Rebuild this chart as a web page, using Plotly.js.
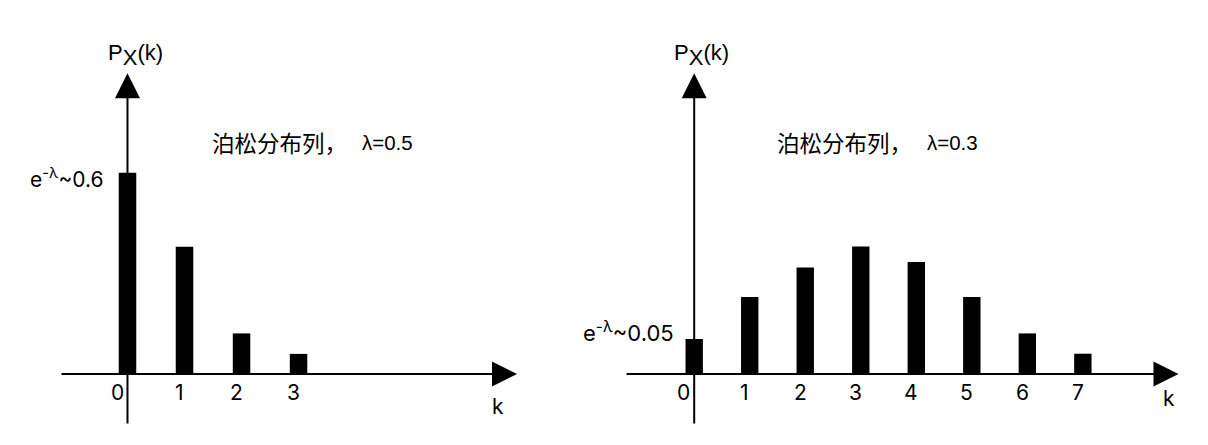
<!DOCTYPE html>
<html><head><meta charset="utf-8">
<script src="https://cdn.plot.ly/plotly-3.0.1.min.js"></script>
<style>html,body{margin:0;padding:0;background:#fff}</style>
</head><body><div id="chart" style="width:1208px;height:445px"></div>
<script>
// ---- data ----
const kLeft = [0, 1, 2, 3];
const pLeft = [0.6, 0.379, 0.121, 0.060];
const kRight = [0, 1, 2, 3, 4, 5, 6, 7];
const pRight = [0.05, 0.110, 0.152, 0.182, 0.160, 0.110, 0.058, 0.029];
const tickLeft = ['0', '1', '2', '3'];
const tickRight = ['0', '1', '2', '3', '4', '5', '6', '7'];
const titleCJK = '泊松分布列，';
const lambdaLeft = 'λ=0.5';
const lambdaRight = 'λ=0.3';
const e0Left = '0.6';
const e0Right = '0.05';
const xLabel = 'k';

// ---- helpers ----
const W = 1208, H = 445;
const px = x => x / W;
const py = y => 1 - y / H;
const FONT = 'Liberation Sans, Arial, sans-serif';
const WIDE = 'Inter, Liberation Sans, sans-serif';
const CJKFONT = 'Noto Sans CJK SC, sans-serif';
const f = (size, fam) => ({family: fam || FONT, size: size, color: '#000'});

const bars = [
  {type: 'bar', x: kLeft, y: pLeft, xaxis: 'x', yaxis: 'y', width: 0.307,
   marker: {color: '#000', line: {width: 0}}, hoverinfo: 'skip'},
  {type: 'bar', x: kRight, y: pRight, xaxis: 'x2', yaxis: 'y2', width: 0.313,
   marker: {color: '#000', line: {width: 0}}, hoverinfo: 'skip'}
];

const ann = [];
function arrow(o) {
  ann.push(Object.assign({text: '', showarrow: true, arrowhead: 2, arrowsize: 2.5,
    arrowwidth: 2, arrowcolor: '#000', standoff: 0, startstandoff: 0,
    axref: 'pixel', ayref: 'pixel'}, o));
}
function txt(o) {
  ann.push(Object.assign({showarrow: false, xanchor: 'center', yanchor: 'middle',
    font: f(21, WIDE)}, o));
}

// left panel axes
arrow({xref: 'x', x: 0, yref: 'paper', y: py(73.3), ax: 0, ay: 425 - 73.3});
arrow({xref: 'paper', x: px(517), yref: 'y', y: 0, ax: -(517 - 60), ay: 0});
// right panel axes
arrow({xref: 'x2', x: 0, yref: 'paper', y: py(73.3), ax: 0, ay: 425 - 73.3});
arrow({xref: 'paper', x: px(1178.5), yref: 'y2', y: 0, ax: -(1178.5 - 625), ay: 0});

// tick labels
kLeft.forEach((k, i) => txt({xref: 'x', yref: 'y', x: k, y: 0, yshift: -18,
  xshift: k === 0 ? -10 : -5, text: tickLeft[i]}));
kRight.forEach((k, i) => txt({xref: 'x2', yref: 'y2', x: k, y: 0, yshift: -18,
  xshift: k === 0 ? -11 : -5, text: tickRight[i]}));

// axis labels
txt({xref: 'paper', yref: 'paper', x: px(498), y: py(406), text: xLabel});
txt({xref: 'paper', yref: 'paper', x: px(1169), y: py(398), text: xLabel});
const yLabel = 'P<sub><span style="font-size:22px">X</span></sub>(k)';
txt({xref: 'paper', yref: 'paper', x: px(106), y: py(55), xanchor: 'left', text: yLabel, font: f(22)});
txt({xref: 'paper', yref: 'paper', x: px(672), y: py(55), xanchor: 'left', text: yLabel, font: f(22)});

// titles
txt({xref: 'paper', yref: 'paper', x: px(210), y: py(142), xanchor: 'left', text: titleCJK, font: f(22.5, CJKFONT)});
txt({xref: 'paper', yref: 'paper', x: px(360), y: py(142), xanchor: 'left', text: lambdaLeft, font: f(20.5)});
txt({xref: 'paper', yref: 'paper', x: px(775), y: py(142), xanchor: 'left', text: titleCJK, font: f(22.5, CJKFONT)});
txt({xref: 'paper', yref: 'paper', x: px(925), y: py(142), xanchor: 'left', text: lambdaRight, font: f(20.5)});

// e^-lambda labels
txt({xref: 'paper', yref: 'paper', x: px(27.5), y: py(178), xanchor: 'left', text: 'e<sup>-λ</sup>~' + e0Left, font: f(21, WIDE)});
txt({xref: 'paper', yref: 'paper', x: px(580.5), y: py(331), xanchor: 'left', text: 'e<sup>-λ</sup>~' + e0Right, font: f(22, WIDE)});

const hidden = {visible: false, fixedrange: true};
const layout = {
  width: W, height: H,
  margin: {l: 0, r: 0, t: 0, b: 0},
  paper_bgcolor: '#fff', plot_bgcolor: 'rgba(0,0,0,0)',
  showlegend: false,
  xaxis: Object.assign({domain: [0, 0.5], range: [-2.236, 8.357]}, hidden),
  yaxis: Object.assign({domain: [0, 1], range: [-0.2116, 1.1148]}, hidden),
  xaxis2: Object.assign({domain: [0.5, 1], range: [-1.6246, 9.254], anchor: 'y2'}, hidden),
  yaxis2: Object.assign({domain: [0, 1], range: [-0.1014, 0.5343], anchor: 'x2'}, hidden),
  annotations: ann
};
Plotly.newPlot('chart', bars, layout, {staticPlot: true, displayModeBar: false});
</script></body></html>
